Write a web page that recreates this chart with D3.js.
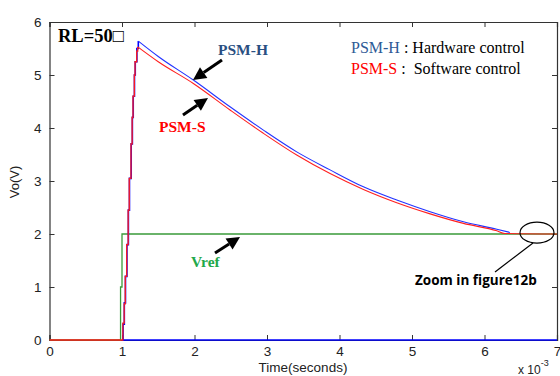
<!DOCTYPE html>
<html><head><meta charset="utf-8">
<script src="https://cdn.jsdelivr.net/npm/d3@7"></script>
<style>body{margin:0;background:#fff}svg{display:block}</style>
</head><body>
<script>
// time in ms (axis shown as x 10^-3 s), voltage in V
const xTicks = [0,1,2,3,4,5,6,7];
const yTicks = [0,1,2,3,4,5,6];

// Vref (green)
const vrefT = [0, 0.98, 0.98, 1.0, 1.0, 7.0];
const vrefV = [0, 0, 1, 1, 2, 2];

// PSM-H (blue) rise (staircase) and decay
const hRiseT = [1.0, 1.015, 1.032, 1.048, 1.068, 1.088, 1.103, 1.127, 1.143, 1.155, 1.172, 1.183, 1.205, 1.225];
const hRiseV = [0, 0.30, 0.70, 1.20, 1.80, 2.45, 3.05, 3.70, 4.20, 4.60, 5.00, 5.25, 5.50, 5.64];
const hDecT = [1.225, 1.5, 1.984, 2.49, 2.95, 3.41, 3.87, 4.33, 4.79, 5.25, 5.71, 6.17, 6.35];
const hDecV = [5.64, 5.35, 4.905, 4.40, 3.96, 3.55, 3.21, 2.89, 2.64, 2.42, 2.23, 2.09, 2.03];
const hZeroT = [1.0, 7.0];
const hZeroV = [0, 0];

// PSM-S (red) rise (staircase) and decay
const sRiseT = [0, 1.0, 1.012, 1.03, 1.045, 1.065, 1.085, 1.10, 1.124, 1.14, 1.152, 1.17, 1.18, 1.203, 1.217];
const sRiseV = [0, 0, 0.32, 0.68, 1.20, 1.80, 2.45, 3.05, 3.70, 4.20, 4.60, 5.00, 5.25, 5.45, 5.53];
const sDecT = [1.217, 1.5, 1.984, 2.49, 2.95, 3.41, 3.87, 4.33, 4.79, 5.25, 5.71, 6.17, 6.28, 7.0];
const sDecV = [5.53, 5.25, 4.84, 4.34, 3.90, 3.49, 3.14, 2.84, 2.59, 2.38, 2.20, 2.06, 2.01, 2.0];

const W = 560, H = 376;
const svg = d3.select("body").append("svg").attr("width", W).attr("height", H);
const x = d3.scaleLinear().domain([0, 7]).range([49.5, 557]);
const y = d3.scaleLinear().domain([0, 6]).range([340, 22]);

const zip = (t, v) => t.map((d, i) => [d, v[i]]);
const lineStep = d3.line().x(d => x(d[0])).y(d => y(d[1])).curve(d3.curveStepAfter);
const lineLin = d3.line().x(d => x(d[0])).y(d => y(d[1]));
const lineSmooth = d3.line().x(d => x(d[0])).y(d => y(d[1])).curve(d3.curveMonotoneX);

// axes
const gx = svg.append("g").attr("transform", `translate(0,${y(0)})`)
  .call(d3.axisBottom(x).tickValues(xTicks).tickFormat(d3.format("d")).tickSize(-5).tickPadding(6));
const gy = svg.append("g").attr("transform", `translate(${x(0)},0)`)
  .call(d3.axisLeft(y).tickValues(yTicks).tickFormat(d3.format("d")).tickSize(-5).tickPadding(8));
const gx2 = svg.append("g").attr("transform", `translate(0,${y(6)})`)
  .call(d3.axisTop(x).tickValues(xTicks).tickFormat("").tickSize(-5));
const gy2 = svg.append("g").attr("transform", `translate(${x(7)},0)`)
  .call(d3.axisRight(y).tickValues(yTicks).tickFormat("").tickSize(-5));
[gx, gy, gx2, gy2].forEach(g => {
  g.select(".domain").attr("stroke", "#333").attr("stroke-width", 1.2);
  g.selectAll(".tick line").attr("stroke", "#333");
  g.selectAll("text").attr("font-family", "Liberation Sans, Arial, sans-serif").attr("font-size", 13.5).attr("fill", "#222");
});

// series
const gp = svg.append("g");
gp.append("path").attr("d", lineLin(zip(vrefT, vrefV))).attr("fill", "none").attr("stroke", "#3a9a3a").attr("stroke-width", 1.3);
gp.append("path").attr("d", lineLin(zip(hZeroT, hZeroV))).attr("fill", "none").attr("stroke", "#0000ff").attr("stroke-width", 1.4);
gp.append("path").attr("d", lineStep(zip(hRiseT, hRiseV))).attr("fill", "none").attr("stroke", "#0000ff").attr("stroke-width", 1.6);
gp.append("path").attr("d", lineSmooth(zip(hDecT, hDecV))).attr("fill", "none").attr("stroke", "#2233ff").attr("stroke-width", 1.1);
gp.append("path").attr("d", lineStep(zip(sRiseT, sRiseV))).attr("fill", "none").attr("stroke", "#ff1a1a").attr("stroke-width", 1.3);
gp.append("path").attr("d", lineSmooth(zip(sDecT, sDecV))).attr("fill", "none").attr("stroke", "#ff2020").attr("stroke-width", 1.1);

// arrows (annotation positions in data units)
function arrow(t0, v0, t1, v1) {
  const x0 = x(t0), y0 = y(v0), x1 = x(t1), y1 = y(v1);
  const a = Math.atan2(y1 - y0, x1 - x0);
  const L = 13, Wd = 6.5;
  const bx = x1 - L * Math.cos(a), by = y1 - L * Math.sin(a);
  svg.append("line").attr("x1", x0).attr("y1", y0).attr("x2", bx).attr("y2", by)
    .attr("stroke", "#000").attr("stroke-width", 3);
  const px = -Math.sin(a) * Wd, py = Math.cos(a) * Wd;
  svg.append("path").attr("d", `M${x1},${y1}L${bx + px},${by + py}L${bx - px},${by - py}Z`).attr("fill", "#000");
}
arrow(2.379, 5.283, 1.979, 4.906);
arrow(1.841, 4.245, 2.186, 4.566);
arrow(2.283, 1.642, 2.628, 1.943);

// ellipse + leader
svg.append("ellipse").attr("cx", x(6.724)).attr("cy", y(2.025)).attr("rx", 17).attr("ry", 10.5)
  .attr("fill", "none").attr("stroke", "#000").attr("stroke-width", 1.2);
svg.append("line").attr("x1", x(6.669)).attr("y1", y(1.83)).attr("x2", x(6.145)).attr("y2", y(1.283))
  .attr("stroke", "#000").attr("stroke-width", 1.2);

const serif = "Liberation Serif, Times New Roman, serif";
// labels
svg.append("text").attr("x", 58).attr("y", 42).attr("font-family", serif).attr("font-weight", "bold")
  .attr("font-size", 18.5).attr("fill", "#000").text("RL=50\u25A1");
svg.append("text").attr("x", 218).attr("y", 55).attr("font-family", serif).attr("font-weight", "bold")
  .attr("font-size", 15.5).attr("fill", "#2a4f82").text("PSM-H");
svg.append("text").attr("x", 159).attr("y", 132).attr("font-family", serif).attr("font-weight", "bold")
  .attr("font-size", 15.5).attr("fill", "#ff0000").text("PSM-S");
svg.append("text").attr("x", 191).attr("y", 267).attr("font-family", serif).attr("font-weight", "bold")
  .attr("font-size", 15.5).attr("fill", "#22a84a").text("Vref");
svg.append("text").attr("x", 415).attr("y", 285).attr("font-family", "Open Sans, Liberation Sans, sans-serif")
  .attr("font-weight", "bold").attr("font-size", 13.5).attr("fill", "#000").text("Zoom in figure12b");

// legend
const lg1 = svg.append("text").attr("x", 351).attr("y", 53).attr("font-family", serif).attr("font-size", 16);
lg1.append("tspan").attr("fill", "#2e5a96").text("PSM-H");
lg1.append("tspan").attr("fill", "#000").text(" : Hardware control");
const lg2 = svg.append("text").attr("x", 351).attr("y", 74).attr("font-family", serif).attr("font-size", 16);
lg2.append("tspan").attr("fill", "#ff0000").text("PSM-S");
lg2.append("tspan").attr("fill", "#000").attr("xml:space", "preserve").text(" :  Software control");

// axis titles
const sans = "Liberation Sans, Arial, sans-serif";
svg.append("text").attr("x", 303).attr("y", 372).attr("text-anchor", "middle").attr("font-family", sans)
  .attr("font-size", 13.5).attr("fill", "#222").text("Time(seconds)");
svg.append("text").attr("transform", "translate(19,182) rotate(-90)").attr("text-anchor", "middle")
  .attr("font-family", sans).attr("font-size", 13).attr("fill", "#222").text("Vo(V)");
const ex = svg.append("text").attr("x", 518).attr("y", 374).attr("font-family", sans).attr("font-size", 12).attr("fill", "#222");
ex.append("tspan").text("x 10");
ex.append("tspan").attr("dy", -8).attr("font-size", 9).text("-3");
</script>
</body></html>
